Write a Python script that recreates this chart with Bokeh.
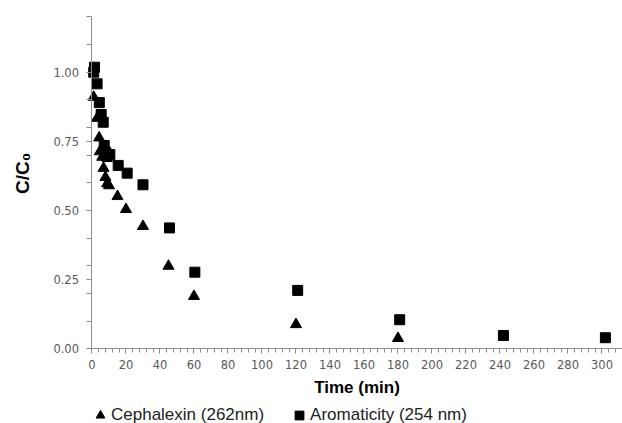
import math
from bokeh.plotting import figure
from bokeh.models import Range1d, FixedTicker, NumeralTickFormatter, Legend, LegendItem, Label
from bokeh.embed import file_html
from bokeh.resources import INLINE

# Data
ceph_time = [1, 3, 4.2, 4.6, 6, 6.8, 7.9, 8.9, 10, 15, 20, 30, 45, 60, 120, 180]
ceph_val = [0.91, 0.834, 0.763, 0.713, 0.693, 0.653, 0.62, 0.597, 0.59, 0.551, 0.504,
            0.443, 0.299, 0.19, 0.088, 0.038]
arom_time = [1, 1.5, 3, 4.3, 5.4, 6.6, 7.2, 8.1, 8.9, 10.5, 15.4, 20.7, 30, 45.6, 60.5,
             121, 181, 242, 302]
arom_val = [1.0, 1.018, 0.958, 0.89, 0.847, 0.819, 0.735, 0.71, 0.695, 0.702, 0.663,
            0.635, 0.593, 0.437, 0.277, 0.211, 0.105, 0.048, 0.040]
x_ticks = list(range(0, 301, 20))
x_minor = list(range(0, 313, 4))
y_ticks = [0, 0.25, 0.5, 0.75, 1.0]
y_minor = [round(0.1 * i, 1) for i in range(13)]
ceph_label = "Cephalexin (262nm)"
arom_label = "Aromaticity (254 nm)"
x_title = "Time (min)"
y_title = "C/C\u2080"

# The frame covers the whole page; both axes are drawn at the data origin
p = figure(width=622, height=423, output_backend="svg", toolbar_location=None,
           x_range=Range1d(-53.82, 312.06), y_range=Range1d(-0.2701, 1.2592),
           min_border=0)
p.outline_line_color = None
p.xgrid.visible = False
p.ygrid.visible = False
p.background_fill_color = "white"
p.border_fill_color = "white"

r_ceph = p.scatter(ceph_time, ceph_val, marker="triangle", size=11, color="black")
r_arom = p.scatter(arom_time, arom_val, marker="square", size=10, color="black")

axis_color = "#8c8c8c"
label_color = "#595959"

xa = p.xaxis[0]
xa.fixed_location = 0
xa.bounds = (0, 312.06)
xa.ticker = FixedTicker(ticks=x_ticks, minor_ticks=x_minor)
xa.axis_line_color = axis_color
xa.major_tick_line_color = axis_color
xa.minor_tick_line_color = axis_color
xa.major_tick_in = 0
xa.major_tick_out = 5
xa.minor_tick_in = 0
xa.minor_tick_out = 4
xa.major_label_text_font = "DejaVu Sans"
xa.major_label_text_font_size = "11.5px"
xa.major_label_text_color = label_color
xa.major_label_standoff = 6
xa.axis_label = x_title
xa.axis_label_text_font = "Liberation Sans"
xa.axis_label_text_font_style = "bold"
xa.axis_label_text_font_size = "17px"
xa.axis_label_text_color = "black"
xa.axis_label_standoff = 6

ya = p.yaxis[0]
ya.fixed_location = 0
ya.bounds = (0, 1.2)
ya.ticker = FixedTicker(ticks=y_ticks, minor_ticks=y_minor)
ya.formatter = NumeralTickFormatter(format="0.00")
ya.axis_line_color = axis_color
ya.major_tick_line_color = axis_color
ya.minor_tick_line_color = axis_color
ya.major_tick_in = 0
ya.major_tick_out = 5
ya.minor_tick_in = 0
ya.minor_tick_out = 5
ya.major_label_text_font = "DejaVu Sans"
ya.major_label_text_font_size = "11.5px"
ya.major_label_text_color = label_color
ya.major_label_standoff = 8

# y axis title, placed left of the tick labels
p.add_layout(Label(x=-41, y=0.634, text=y_title, angle=math.pi / 2,
                   text_align="center", text_baseline="middle",
                   text_font="Liberation Sans", text_font_style="bold",
                   text_font_size="19px", text_color="black"))

legend = Legend(items=[LegendItem(label=ceph_label, renderers=[r_ceph]),
                       LegendItem(label=arom_label, renderers=[r_arom])],
                location=(89, -3), orientation="horizontal",
                glyph_width=22, glyph_height=22, label_standoff=-2, spacing=24,
                padding=0, margin=0, border_line_color=None, background_fill_alpha=0,
                label_text_font="Liberation Sans", label_text_font_size="17px",
                label_text_color="#222222")
p.add_layout(legend, "center")

open("out.html", "w").write(file_html(p, INLINE))
